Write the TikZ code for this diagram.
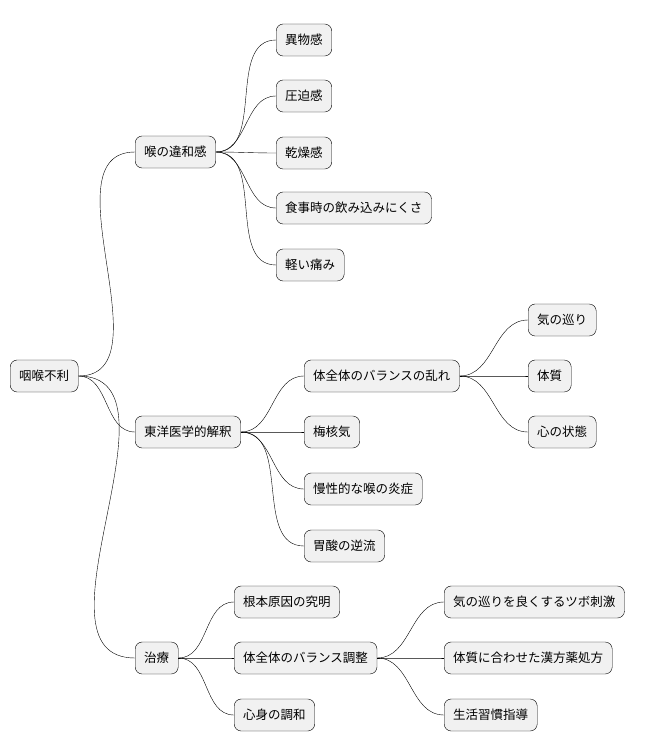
\documentclass[tikz,border=0pt]{standalone}
\usepackage{fontspec}
\setmainfont{Noto Sans CJK JP}
\usetikzlibrary{positioning}
\definecolor{boxfill}{HTML}{F1F1F1}
\tikzset{every node/.style={align=center}}

\begin{document}
\begin{tikzpicture}[x=1pt, y=-1pt,
    topic/.style={rectangle, rounded corners=7pt, draw, fill=boxfill, anchor=west,
                  minimum height=32pt, inner xsep=9pt, font=\fontsize{12.5}{15}\selectfont},
    link/.style={thin, out=0, in=180}
]
  \useasboundingbox (0,0) rectangle (656,752);

  % --- root ---
  \node[topic] (ROOT) at (10,376) {咽喉不利};

  % --- first level ---
  \node[topic] (IWA)  at (135,152) {喉の違和感};
  \node[topic] (TOYO) at (135,432) {東洋医学的解釈};
  \node[topic] (CHI)  at (135,658) {治療};
  \foreach \n in {IWA, TOYO, CHI} \draw (ROOT.east) to[link] (\n.west);

  % --- discomfort group ---
  \node[topic] (I1) at (276,40)  {異物感};
  \node[topic] (I2) at (276,96)  {圧迫感};
  \node[topic] (I3) at (276,153) {乾燥感};
  \node[topic] (I4) at (276,208) {食事時の飲み込みにくさ};
  \node[topic] (I5) at (276,265) {軽い痛み};
  \foreach \n in {I1,I2,I3,I4,I5} \draw (IWA.east) to[link] (\n.west);

  % --- eastern medicine group ---
  \node[topic] (T1) at (304,376) {体全体のバランスの乱れ};
  \node[topic] (T2) at (304,432) {梅核気};
  \node[topic] (T3) at (304,489) {慢性的な喉の炎症};
  \node[topic] (T4) at (304,546) {胃酸の逆流};
  \foreach \n in {T1,T2,T3,T4} \draw (TOYO.east) to[link] (\n.west);

  \node[topic] (B1) at (528,320) {気の巡り};
  \node[topic] (B2) at (528,376) {体質};
  \node[topic] (B3) at (528,432) {心の状態};
  \foreach \n in {B1,B2,B3} \draw (T1.east) to[link] (\n.west);

  % --- treatment group ---
  \node[topic] (C1) at (234,602) {根本原因の究明};
  \node[topic] (C2) at (234,658) {体全体のバランス調整};
  \node[topic] (C3) at (234,715) {心身の調和};
  \foreach \n in {C1,C2,C3} \draw (CHI.east) to[link] (\n.west);

  \node[topic] (A1) at (444,602) {気の巡りを良くするツボ刺激};
  \node[topic] (A2) at (444,658) {体質に合わせた漢方薬処方};
  \node[topic] (A3) at (444,715) {生活習慣指導};
  \foreach \n in {A1,A2,A3} \draw (C2.east) to[link] (\n.west);
\end{tikzpicture}
\end{document}
